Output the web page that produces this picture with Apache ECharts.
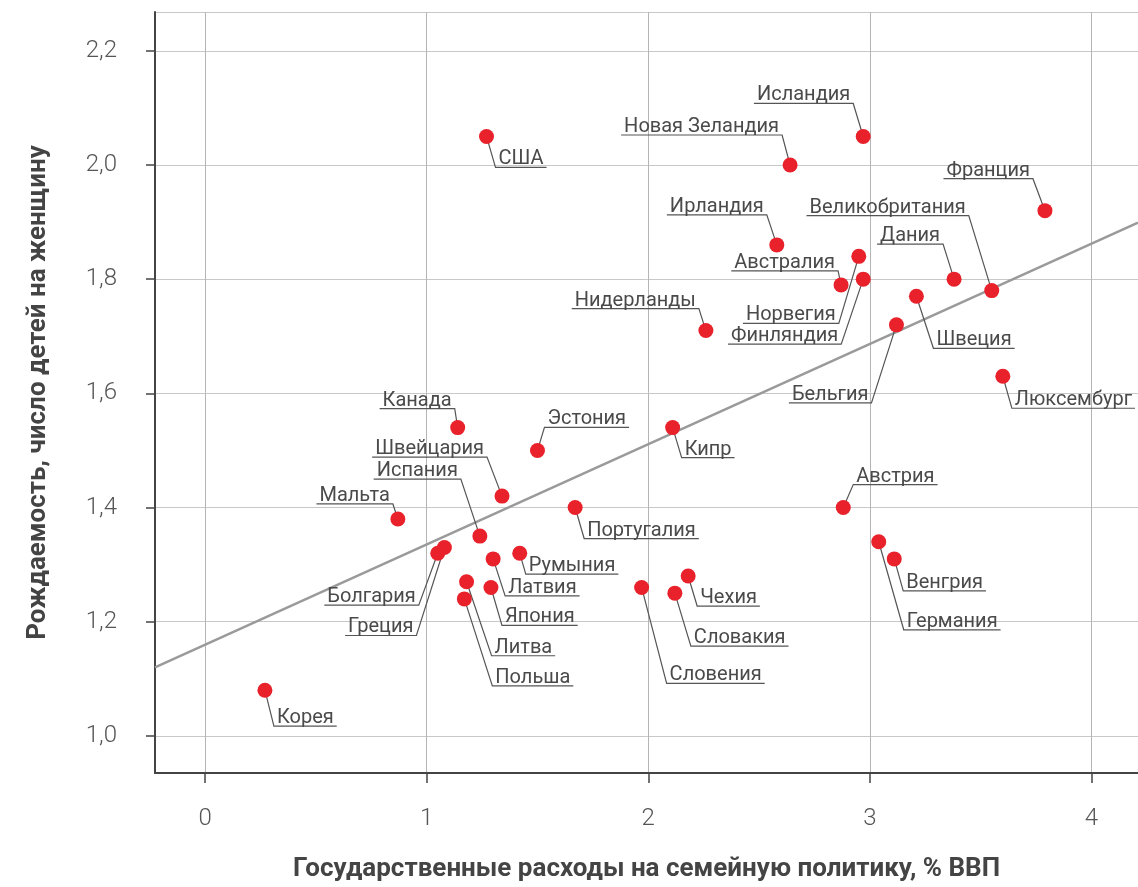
<!DOCTYPE html>
<html>
<head>
<meta charset="utf-8">
<script src="https://cdn.jsdelivr.net/npm/echarts@6/dist/echarts.min.js"></script>
<style>
  html, body { margin: 0; padding: 0; background: #fff; }
  #chart { width: 1138px; height: 887px; }
</style>
</head>
<body>
<div id="chart"></div>
<script>
// страны и значения
const countries = [
  'Корея', 'Мальта', 'Канада', 'США', 'Болгария', 'Греция', 'Литва', 'Польша',
  'Испания', 'Швейцария', 'Латвия', 'Япония', 'Эстония', 'Румыния', 'Португалия',
  'Словения', 'Словакия', 'Чехия', 'Кипр', 'Нидерланды', 'Ирландия', 'Новая Зеландия',
  'Австралия', 'Норвегия', 'Финляндия', 'Исландия', 'Австрия', 'Германия', 'Венгрия',
  'Бельгия', 'Швеция', 'Дания', 'Великобритания', 'Люксембург', 'Франция'
]
const spending = [
  0.27, 0.87, 1.14, 1.27, 1.05, 1.08, 1.18, 1.17,
  1.24, 1.34, 1.30, 1.29, 1.50, 1.42, 1.67,
  1.97, 2.12, 2.18, 2.11, 2.26, 2.58, 2.64,
  2.87, 2.95, 2.97, 2.97, 2.88, 3.04, 3.11,
  3.12, 3.21, 3.38, 3.55, 3.60, 3.79
]
const fertility = [
  1.08, 1.38, 1.54, 2.05, 1.32, 1.33, 1.27, 1.24,
  1.35, 1.42, 1.31, 1.26, 1.50, 1.32, 1.40,
  1.26, 1.25, 1.28, 1.54, 1.71, 1.86, 2.00,
  1.79, 1.84, 1.80, 2.05, 1.40, 1.34, 1.31,
  1.72, 1.77, 1.80, 1.78, 1.63, 1.92
]
// линия тренда (концы по краям области графика)
const trendX = [-0.226, 4.21]
const trendY = [1.12, 1.899]

// куда отводить подпись: [dx, dy] в пикселях от точки и сторона подчёркивания
const labelPos = [
  [9, 36, 'r'], [-5, -15, 'l'], [-3, -19, 'l'], [9, 31, 'r'], [-19, 52, 'l'], [-28, 88, 'l'],
  [25, 74, 'r'], [28, 87, 'r'], [-19, -57, 'l'], [-15, -39, 'l'], [12, 37, 'r'], [11, 38, 'r'],
  [7, -23, 'r'], [6, 21, 'r'], [9, 31, 'r'], [25, 96, 'r'], [16, 53, 'r'], [9, 30, 'r'],
  [9, 30, 'r'], [-7, -22, 'l'], [-10, -30, 'l'], [-8, -30, 'l'], [-3, -14, 'l'], [-20, 67, 'l'],
  [-22, 65, 'l'], [-10, -33, 'l'], [10, -23, 'r'], [25, 88, 'r'], [9, 32, 'r'], [-25, 78, 'l'],
  [17, 52, 'r'], [-11, -35, 'l'], [-23, -75, 'l'], [9, 32, 'r'], [-12, -32, 'l']
]

const labelFont = '20px Roboto'
const ctx = document.createElement('canvas').getContext('2d')
ctx.font = labelFont
const textWidth = s => ctx.measureText(s).width

const points = countries.map((c, i) => ({ name: c, value: [spending[i], fertility[i]] }))
const fmtComma = v => v.toFixed(1).replace('.', ',')

const nameStyle = { fontFamily: 'Roboto', fontWeight: 'bold', fontSize: 26, color: '#444' }

const chart = echarts.init(document.getElementById('chart'))
chart.setOption({
  animation: false,
  grid: { left: 155, right: 0, top: 12, bottom: 112 },
  xAxis: {
    type: 'value',
    min: -0.226,
    max: 4.21,
    splitNumber: 5,
    name: 'Государственные расходы на семейную политику, % ВВП',
    nameLocation: 'middle',
    nameGap: 83,
    nameTextStyle: nameStyle,
    axisLine: { onZero: false, lineStyle: { color: '#444', width: 2 } },
    axisTick: { show: true, length: 10, lineStyle: { color: '#444', width: 1.5 } },
    axisLabel: {
      showMinLabel: false, showMaxLabel: false, margin: 34,
      fontFamily: 'Roboto', fontWeight: 300, fontSize: 24, color: '#555'
    },
    splitLine: { show: true, lineStyle: { color: '#b5b5b5', width: 1 } }
  },
  yAxis: {
    type: 'value',
    min: 0.935,
    max: 2.268,
    splitNumber: 7,
    name: 'Рождаемость, число детей на женщину',
    nameLocation: 'middle',
    nameRotate: 90,
    nameGap: 104,
    nameTextStyle: nameStyle,
    axisLine: { show: true, onZero: false, lineStyle: { color: '#444', width: 2 } },
    axisTick: { show: true, length: 9, lineStyle: { color: '#444', width: 1.5 } },
    axisLabel: {
      showMinLabel: false, showMaxLabel: false, margin: 38,
      fontFamily: 'Roboto', fontWeight: 300, fontSize: 24, color: '#555',
      formatter: fmtComma
    },
    splitLine: { show: true, lineStyle: { color: '#c8c8c8', width: 1 } }
  },
  series: [
    {
      type: 'line',
      data: trendX.map((x, i) => [x, trendY[i]]),
      symbol: 'none',
      silent: true,
      lineStyle: { color: '#9a9a9a', width: 2.5 },
      z: 2
    },
    {
      type: 'custom',
      data: points,
      clip: false,
      silent: true,
      z: 3,
      renderItem(params, api) {
        const i = params.dataIndex
        const p = api.coord([api.value(0), api.value(1)])
        const [dx, dy, side] = labelPos[i]
        const ax = p[0] + dx
        const ay = p[1] + dy
        const w = textWidth(countries[i]) + 6
        const x0 = side === 'r' ? ax : ax - w
        const x1 = x0 + w
        return {
          type: 'group',
          children: [
            {
              type: 'polyline',
              shape: { points: [p, [ax, ay], [side === 'r' ? x1 : x0, ay]] },
              style: { stroke: '#555', lineWidth: 1.2, fill: null }
            },
            {
              type: 'text',
              x: (x0 + x1) / 2,
              y: ay + 2,
              style: {
                text: countries[i],
                font: labelFont,
                fill: '#4a4a4a',
                align: 'center',
                verticalAlign: 'bottom'
              }
            }
          ]
        }
      }
    },
    {
      type: 'scatter',
      data: points,
      symbolSize: 15,
      itemStyle: { color: '#e8212b', opacity: 1 },
      z: 4
    }
  ]
})
</script>
</body>
</html>
